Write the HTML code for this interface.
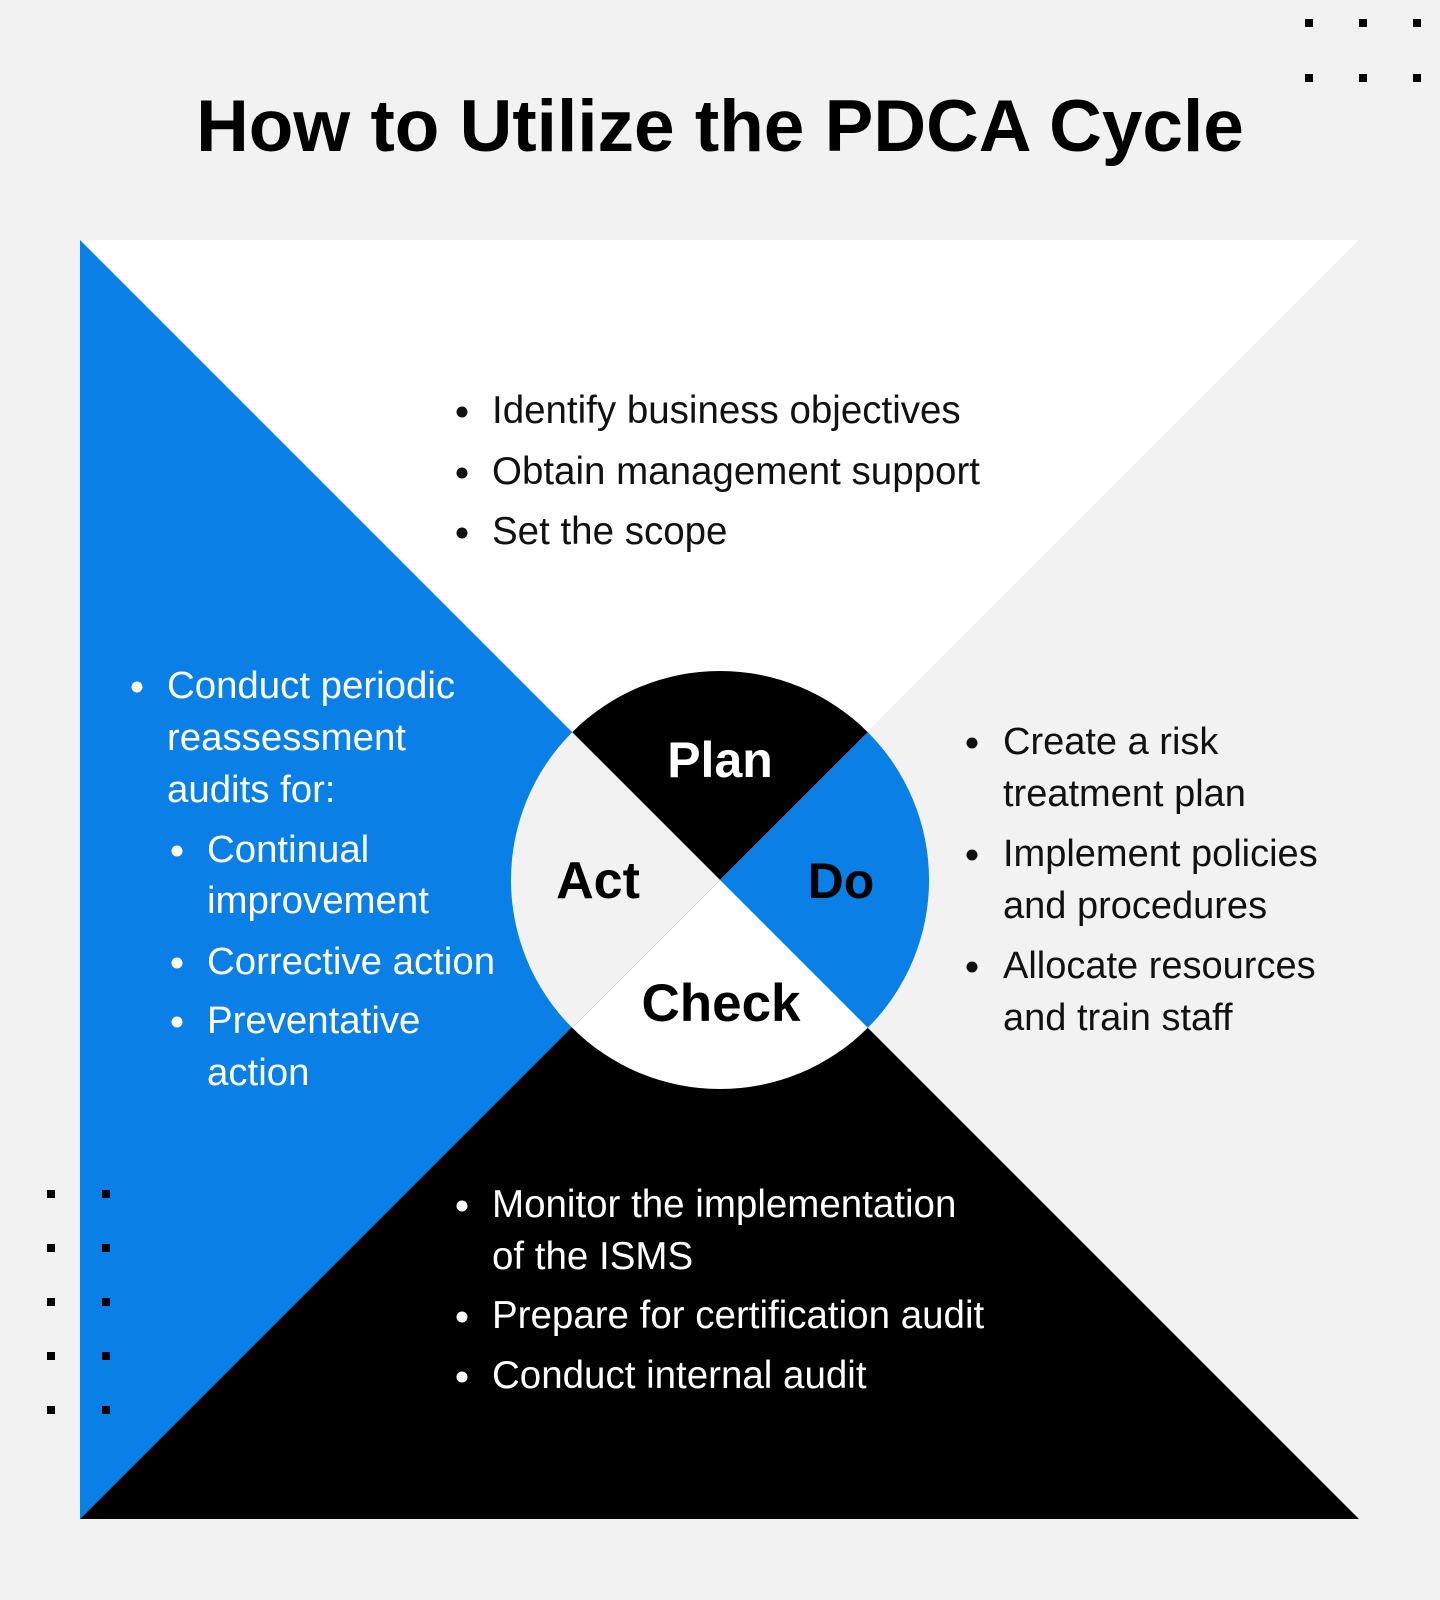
<!DOCTYPE html>
<html>
<head>
<meta charset="utf-8">
<style>
  html,body{margin:0;padding:0;background:#f2f2f2;}
  body{width:1440px;height:1600px;overflow:hidden;}
  svg{display:block;}
  text{font-family:"Liberation Sans", Arial, sans-serif;}
</style>
</head>
<body>
<svg width="1440" height="1600" viewBox="0 0 1440 1600" xmlns="http://www.w3.org/2000/svg">
  <rect x="0" y="0" width="1440" height="1600" fill="#f2f2f2"/>

  <!-- decorative dots top-right -->
  <g fill="#000">
    <rect x="1305" y="19" width="8" height="8"/>
    <rect x="1359" y="19" width="8" height="8"/>
    <rect x="1413" y="19" width="8" height="8"/>
    <rect x="1305" y="74" width="8" height="8"/>
    <rect x="1359" y="74" width="8" height="8"/>
    <rect x="1413" y="74" width="8" height="8"/>
  </g>

  <!-- title -->
  <text x="720" y="151" text-anchor="middle" font-size="73" font-weight="bold" fill="#000">How to Utilize the PDCA Cycle</text>

  <!-- big triangles -->
  <polygon points="80,240 1359,240 719.5,879.5" fill="#ffffff"/>
  <polygon points="80,240 80,1519 719.5,879.5" fill="#0a7fe6"/>
  <polygon points="80,1519 1359,1519 719.5,879.5" fill="#000000"/>

  <!-- decorative dots bottom-left -->
  <g fill="#000">
    <rect x="47" y="1190" width="8" height="8"/>
    <rect x="102" y="1190" width="8" height="8"/>
    <rect x="47" y="1244" width="8" height="8"/>
    <rect x="102" y="1244" width="8" height="8"/>
    <rect x="47" y="1298" width="8" height="8"/>
    <rect x="102" y="1298" width="8" height="8"/>
    <rect x="47" y="1352" width="8" height="8"/>
    <rect x="102" y="1352" width="8" height="8"/>
    <rect x="47" y="1406" width="8" height="8"/>
    <rect x="102" y="1406" width="8" height="8"/>
  </g>

  <!-- central circle quadrants -->
  <path d="M720,880 L572.2,732.2 A209,209 0 0 1 867.8,732.2 Z" fill="#000000"/>
  <path d="M720,880 L867.8,732.2 A209,209 0 0 1 867.8,1027.8 Z" fill="#0a7fe6"/>
  <path d="M720,880 L867.8,1027.8 A209,209 0 0 1 572.2,1027.8 Z" fill="#ffffff"/>
  <path d="M720,880 L572.2,1027.8 A209,209 0 0 1 572.2,732.2 Z" fill="#f2f2f2"/>

  <!-- circle labels -->
  <g font-weight="bold" text-anchor="middle">
    <text x="720" y="777" font-size="50" fill="#ffffff">Plan</text>
    <text x="598" y="898" font-size="52" fill="#000000">Act</text>
    <text x="841" y="898" font-size="50" fill="#000000">Do</text>
    <text x="721" y="1021" font-size="53" fill="#000000">Check</text>
  </g>

  <!-- Plan list (top) -->
  <g fill="#111" font-size="38.5">
    <circle cx="462" cy="412" r="5.5"/>
    <text x="492" y="423">Identify business objectives</text>
    <circle cx="462" cy="473" r="5.5"/>
    <text x="492" y="484">Obtain management support</text>
    <circle cx="462" cy="533" r="5.5"/>
    <text x="492" y="544">Set the scope</text>
  </g>

  <!-- Act list (left) -->
  <g fill="#ffffff" font-size="38.4">
    <circle cx="137" cy="687" r="5.5"/>
    <text x="167" y="698">Conduct periodic</text>
    <text x="167" y="750">reassessment</text>
    <text x="167" y="802">audits for:</text>
    <circle cx="177" cy="851" r="5.5"/>
    <text x="207" y="862">Continual</text>
    <text x="207" y="913">improvement</text>
    <circle cx="177" cy="963" r="5.5"/>
    <text x="207" y="974">Corrective action</text>
    <circle cx="177" cy="1022" r="5.5"/>
    <text x="207" y="1033">Preventative</text>
    <text x="207" y="1085">action</text>
  </g>

  <!-- Do list (right) -->
  <g fill="#111" font-size="38">
    <circle cx="972" cy="743" r="5.5"/>
    <text x="1003" y="754">Create a risk</text>
    <text x="1003" y="806">treatment plan</text>
    <circle cx="972" cy="855" r="5.5"/>
    <text x="1003" y="866">Implement policies</text>
    <text x="1003" y="918">and procedures</text>
    <circle cx="972" cy="967" r="5.5"/>
    <text x="1003" y="978">Allocate resources</text>
    <text x="1003" y="1030">and train staff</text>
  </g>

  <!-- Check list (bottom) -->
  <g fill="#ffffff" font-size="38.5">
    <circle cx="462" cy="1206" r="5.5"/>
    <text x="492" y="1217">Monitor the implementation</text>
    <text x="492" y="1269">of the ISMS</text>
    <circle cx="462" cy="1317" r="5.5"/>
    <text x="492" y="1328">Prepare for certification audit</text>
    <circle cx="462" cy="1377" r="5.5"/>
    <text x="492" y="1388">Conduct internal audit</text>
  </g>
</svg>
</body>
</html>
